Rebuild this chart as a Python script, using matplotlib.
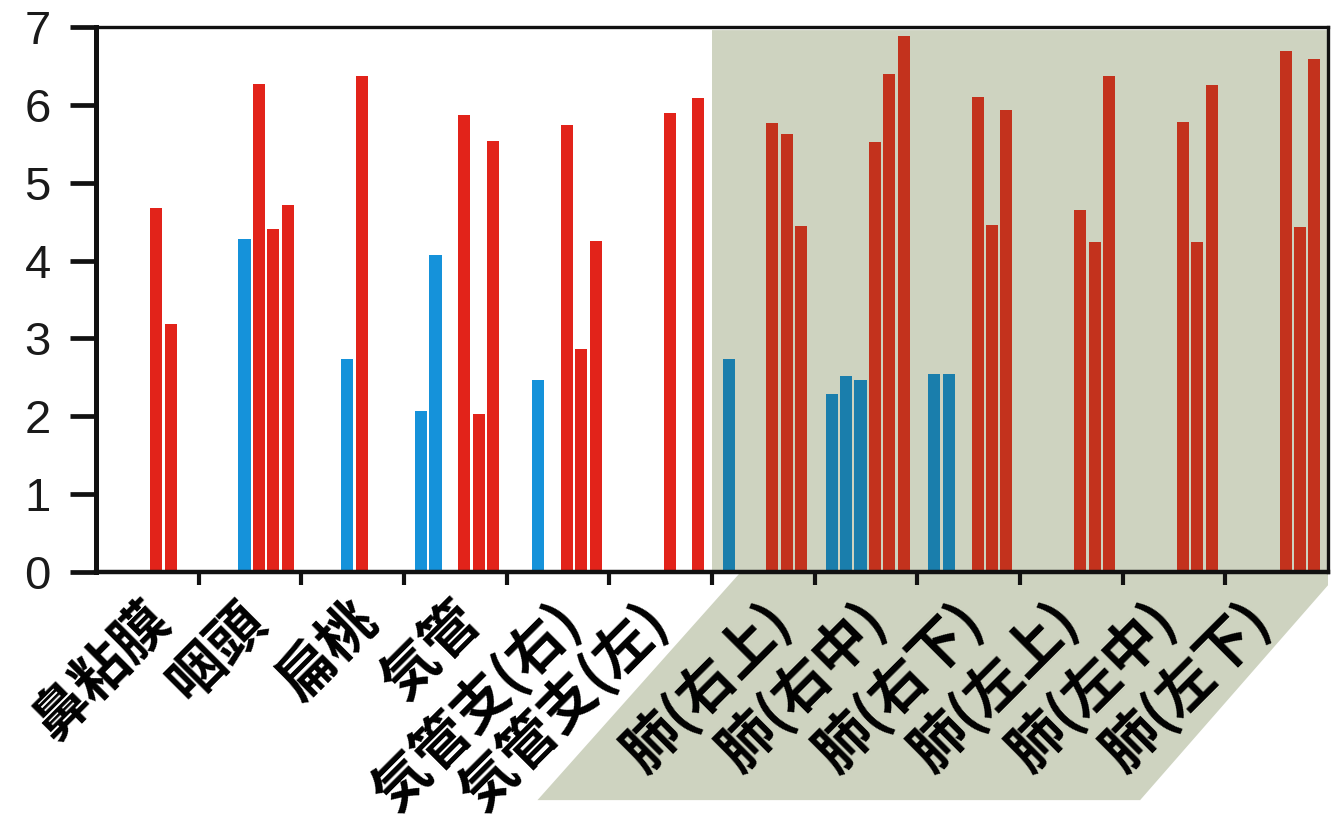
import numpy as np
import matplotlib
matplotlib.use("Agg")
import matplotlib.pyplot as plt
from matplotlib.patches import Polygon

plt.rcParams["font.family"] = ["Liberation Sans", "DejaVu Sans"]

nan = np.nan
categories = ["鼻粘膜", "咽頭", "扁桃", "気管", "気管支(右)", "気管支(左)",
              "肺(右上)", "肺(右中)", "肺(右下)", "肺(左上)", "肺(左中)", "肺(左下)"]
# three blue and three red series, one slot each inside every category
blue_1 = [nan, nan, nan, 2.07, nan, nan, 2.74, 2.28, 2.54, nan, nan, nan]
blue_2 = [nan, nan, nan, 4.07, 2.46, nan, nan, 2.52, 2.54, nan, nan, nan]
blue_3 = [nan, 4.28, 2.74, nan, nan, nan, nan, 2.46, nan, nan, nan, nan]
red_1 = [4.68, 6.27, 6.37, 5.87, 5.74, 5.90, 5.77, 5.52, 6.10, 4.65, 5.78, 6.69]
red_2 = [3.18, 4.41, nan, 2.03, 2.86, nan, 5.63, 6.40, 4.46, 4.24, 4.24, 4.43]
red_3 = [nan, 4.71, nan, 5.54, 4.25, 6.09, 4.44, 6.88, 5.94, 6.37, 6.26, 6.59]
yticks = [0, 1, 2, 3, 4, 5, 6, 7]
lung_start = 6  # first category of the shaded (lung) block

# label anchors (x, in category units) -- the lung labels sit a bit closer together
label_x = [0.83, 1.76, 2.85, 3.85, 4.83, 5.68, 6.88, 7.82, 8.75, 9.69, 10.64, 11.56]

BLUE, BLUE_DK = "#1592da", "#1a7eac"
RED, RED_DK = "#e2231a", "#c3321d"
SHADE = "#ced3c0"

fig = plt.figure(figsize=(13.38, 8.27), dpi=100)
ax = fig.add_axes([96 / 1338, 255 / 827, 1232 / 1338, 545 / 827])

idx = np.arange(len(categories))
series = [(blue_1, BLUE, BLUE_DK), (blue_2, BLUE, BLUE_DK), (blue_3, BLUE, BLUE_DK),
          (red_1, RED, RED_DK), (red_2, RED, RED_DK), (red_3, RED, RED_DK)]
for k, (vals, c_lt, c_dk) in enumerate(series):
    vals = np.asarray(vals, float)
    ok = ~np.isnan(vals)
    cols = np.where(idx >= lung_start, c_dk, c_lt)[ok]
    ax.bar(idx[ok] + 0.166 + 0.1403 * k, vals[ok], width=0.118,
           color=cols, linewidth=0, zorder=2)

# shaded lung block, running down under its labels
shade = Polygon([(lung_start, 6.96), (12, 6.96), (12, -0.17), (10.17, -2.93),
                 (4.3, -2.93), (lung_start + 0.28, 0), (lung_start, 0)],
                closed=True, facecolor=SHADE, edgecolor="none",
                clip_on=False, zorder=0.5)
ax.add_patch(shade)

ax.set_xlim(0, len(categories))
ax.set_ylim(0, 7)

for side, lw in [("left", 3.6), ("bottom", 3.2), ("top", 2.4), ("right", 2.4)]:
    ax.spines[side].set_linewidth(lw)
    ax.spines[side].set_color("#111111")

ax.set_yticks(yticks)
ax.set_yticklabels([str(v) for v in yticks])
ax.tick_params(axis="y", length=18.5, width=3.4, pad=14, labelsize=34,
               color="#111111", labelcolor="#1a1a1a")

ax.set_xticks(np.arange(1, len(categories)))
ax.set_xticklabels([])
ax.tick_params(axis="x", which="major", length=9.5, width=3, color="#111111")
ax.set_xticks(label_x, minor=True)
ax.set_xticklabels(categories, minor=True, rotation=45, ha="right", va="top",
                   fontsize=40.5, fontweight="bold",
                   family=["Noto Sans CJK JP", "DejaVu Sans"])
ax.tick_params(axis="x", which="minor", length=0, pad=14)

fig.savefig("out.png", dpi=100)
